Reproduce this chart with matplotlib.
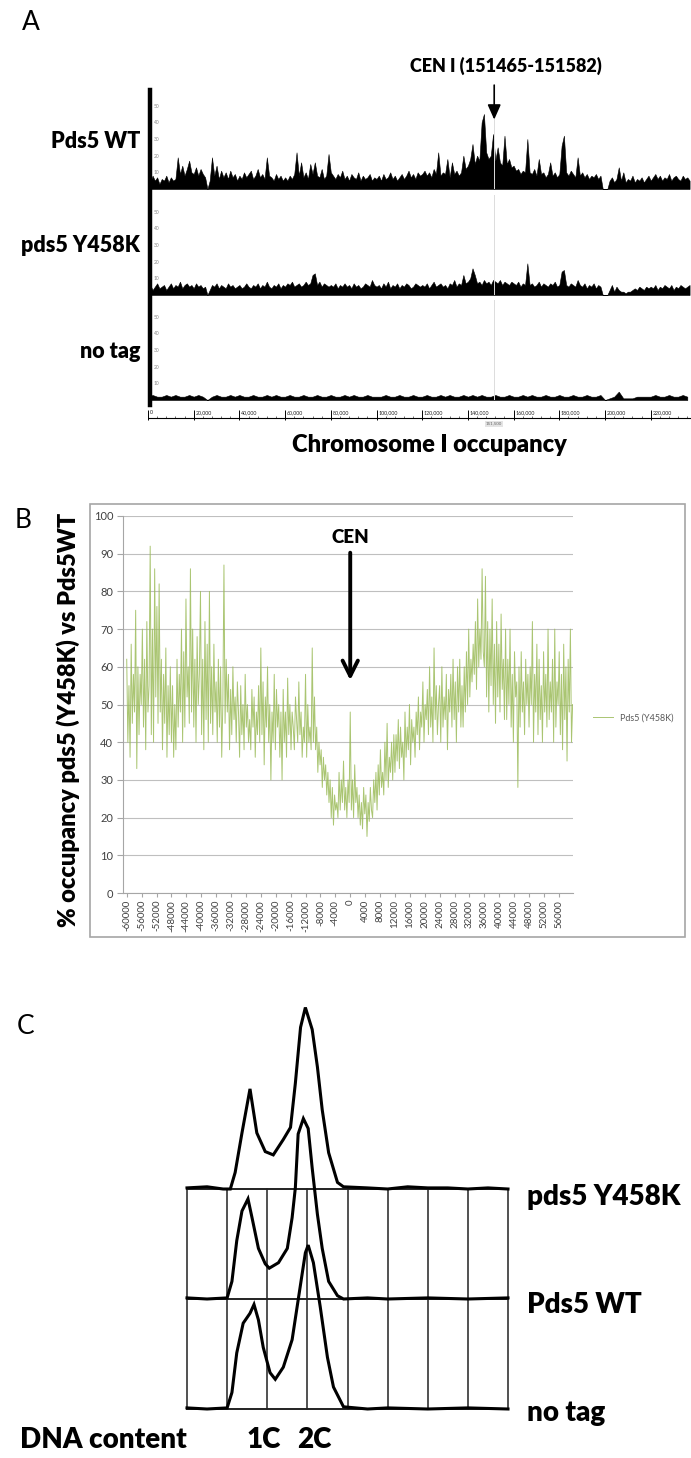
import numpy as np
import matplotlib.pyplot as plt
from matplotlib.lines import Line2D
from matplotlib.patches import Rectangle

plt.rcParams['font.family'] = ['Lato', 'DejaVu Sans']

W, H = 691, 1458

# ---------------- Panel A: occupancy along chromosome I ----------------
# WT and Y458K read every 1 kb, no tag every 2 kb (read off the tracks)
wt_occ = [
    6, 4, 8, 5, 7, 3, 6, 5, 8, 4, 7, 5, 6, 19, 9, 14, 8, 12, 17, 10,
    9, 13, 8, 12, 9, 7, 0, 5, 19, 8, 14, 6, 11, 7, 10, 6, 11, 7, 9, 5,
    8, 6, 10, 7, 9, 11, 6, 8, 12, 7, 9, 6, 19, 8, 7, 5, 9, 6, 8, 5,
    7, 5, 8, 6, 9, 22, 8, 16, 7, 10, 6, 15, 9, 16, 8, 7, 12, 6, 8, 21,
    10, 8, 6, 9, 7, 11, 6, 8, 5, 9, 7, 6, 10, 5, 8, 6, 7, 9, 5, 7,
    6, 8, 5, 9, 6, 7, 10, 6, 8, 5, 7, 9, 6, 8, 11, 7, 9, 6, 10, 8,
    9, 11, 8, 10, 7, 12, 9, 22, 8, 10, 9, 18, 7, 16, 9, 11, 8, 10, 20, 12,
    14, 18, 27, 15, 20, 17, 40, 45, 22, 18, 20, 33, 17, 25, 16, 14, 32, 15, 18, 13,
    14, 11, 12, 9, 11, 10, 30, 10, 9, 12, 8, 18, 9, 10, 7, 9, 16, 8, 10, 7,
    9, 26, 32, 10, 8, 11, 9, 7, 19, 8, 10, 7, 9, 6, 8, 7, 9, 6, 8, 0,
    0, 0, 5, 7, 4, 6, 13, 5, 10, 4, 6, 5, 8, 4, 6, 5, 7, 4, 6, 8,
    5, 7, 9, 6, 8, 5, 7, 6, 9, 5, 7, 8, 6, 5, 8, 6, 7, 5,
]
y458k_occ = [
    4, 6, 3, 5, 7, 4, 5, 6, 3, 5, 7, 4, 6, 5, 8, 4, 6, 7, 5, 6,
    4, 7, 5, 6, 4, 5, 0, 3, 6, 5, 7, 4, 6, 5, 4, 7, 5, 6, 4, 5,
    6, 4, 5, 7, 5, 4, 6, 5, 7, 4, 6, 5, 8, 5, 4, 6, 5, 7, 4, 6,
    5, 7, 6, 8, 5, 6, 7, 5, 6, 8, 6, 7, 12, 13, 6, 8, 5, 7, 6, 5,
    6, 5, 7, 4, 6, 5, 7, 5, 6, 4, 7, 5, 6, 4, 5, 7, 6, 5, 9, 6,
    5, 6, 4, 7, 5, 8, 4, 6, 5, 7, 4, 6, 5, 7, 6, 4, 5, 7, 6, 5,
    6, 5, 7, 4, 6, 8, 5, 6, 7, 5, 6, 4, 7, 6, 9, 5, 7, 6, 12, 7,
    8, 10, 16, 12, 7, 8, 6, 9, 7, 8, 6, 9, 8, 7, 9, 6, 8, 7, 6, 8,
    7, 6, 8, 5, 7, 6, 19, 6, 7, 5, 6, 8, 5, 7, 6, 5, 7, 6, 8, 5,
    6, 14, 15, 6, 5, 7, 6, 5, 9, 6, 5, 7, 4, 6, 5, 7, 4, 6, 5, 0,
    0, 0, 3, 6, 2, 5, 3, 2, 2, 1, 2, 2, 3, 4, 3, 5, 4, 3, 5, 4,
    5, 4, 6, 3, 5, 4, 6, 5, 4, 6, 3, 5, 4, 6, 5, 4, 5, 6,
]
notag_occ = [
    2, 3, 2, 2, 3, 2, 3, 2, 2, 3,
    2, 3, 2, 0, 2, 3, 2, 2, 3, 2,
    3, 2, 2, 3, 2, 2, 3, 2, 3, 2,
    2, 3, 2, 2, 3, 2, 2, 3, 2, 2,
    3, 2, 2, 3, 2, 3, 2, 2, 3, 2,
    2, 2, 3, 2, 2, 3, 2, 2, 3, 2,
    2, 3, 2, 2, 3, 2, 3, 2, 2, 3,
    2, 3, 2, 3, 2, 2, 3, 2, 2, 3,
    2, 2, 3, 2, 3, 2, 2, 3, 2, 2,
    3, 2, 2, 3, 2, 2, 3, 2, 2, 3,
    0, 1, 2, 5, 1, 1, 1, 2, 2, 2,
    2, 3, 2, 2, 3, 2, 2, 3, 2,
]
track_names = ['Pds5 WT', 'pds5 Y458K', 'no tag']
track_yticks = [10, 20, 30, 40, 50]
ruler_ticks = [0, 20000, 40000, 60000, 80000, 100000, 120000,
               140000, 160000, 180000, 200000, 220000]
cen_pos = 151500

# ---------------- Panel B: % occupancy around CEN (every 300 bp) ----------------
dist_start, dist_step = -60000, 300
ratio = [
    62, 40, 55, 36, 66, 45, 58, 48, 75, 33, 60, 42, 58, 50, 70, 44, 62, 38, 72, 48,
    55, 92, 42, 70, 40, 86, 52, 76, 45, 82, 48, 62, 38, 58, 45, 65, 36, 55, 42, 60,
    40, 55, 36, 50, 38, 62, 44, 58, 48, 70, 40, 64, 44, 78, 52, 60, 45, 86, 48, 70,
    44, 62, 40, 68, 50, 58, 80, 42, 62, 38, 72, 46, 66, 40, 80, 45, 60, 42, 66, 48,
    56, 40, 62, 44, 60, 36, 50, 87, 45, 62, 48, 58, 38, 54, 42, 60, 46, 52, 40, 56,
    48, 36, 55, 42, 50, 38, 58, 44, 50, 40, 46, 38, 54, 44, 52, 36, 48, 42, 55, 40,
    65, 42, 56, 34, 52, 44, 60, 40, 50, 30, 48, 40, 58, 38, 54, 44, 50, 36, 48, 30,
    54, 40, 48, 36, 57, 42, 50, 38, 48, 44, 38, 52, 46, 40, 56, 42, 48, 36, 44, 40,
    58, 36, 50, 40, 44, 38, 65, 40, 52, 38, 44, 32, 40, 34, 38, 28, 36, 30, 34, 26,
    32, 24, 30, 20, 28, 18, 26, 22, 24, 20, 32, 22, 30, 24, 35, 22, 28, 20, 30, 24,
    48, 22, 30, 20, 34, 24, 28, 20, 26, 18, 24, 17, 28, 21, 26, 15, 24, 19, 28, 22,
    20, 30, 24, 32, 22, 34, 26, 38, 28, 32, 26, 40, 30, 45, 28, 36, 32, 40, 30, 42,
    32, 42, 35, 46, 33, 44, 36, 40, 30, 48, 36, 44, 38, 50, 34, 46, 40, 44, 36, 48,
    42, 52, 38, 48, 44, 56, 40, 50, 46, 54, 42, 60, 44, 52, 40, 65, 46, 55, 42, 50,
    55, 40, 60, 44, 52, 46, 58, 38, 54, 48, 58, 44, 62, 46, 56, 40, 60, 48, 62, 44,
    55, 44, 60, 48, 64, 50, 70, 52, 62, 56, 66, 58, 72, 54, 78, 60, 70, 62, 86, 64,
    60, 84, 52, 72, 48, 70, 55, 78, 50, 66, 45, 72, 52, 66, 48, 74, 54, 62, 46, 70,
    46, 62, 50, 70, 44, 58, 40, 64, 52, 56, 28, 60, 44, 64, 48, 56, 42, 62, 50, 58,
    44, 60, 50, 72, 40, 58, 48, 66, 42, 62, 46, 55, 40, 64, 48, 58, 44, 70, 46, 56,
    48, 62, 40, 70, 44, 56, 50, 64, 42, 58, 38, 66, 46, 60, 35, 62, 48, 70, 40, 50,
]
dist_ticks = list(range(-60000, 56001, 4000))

# ---------------- Panel C: DNA content profiles ----------------
ph_y458k_x = [0, 0.5, 0.9, 1.08, 1.2, 1.37, 1.57, 1.74, 1.95, 2.15, 2.4, 2.58, 2.7, 2.83,
              2.95, 3.12, 3.25, 3.37, 3.53, 3.75, 3.9, 4.5, 5.0, 5.5, 6.0, 6.5, 7.0, 7.5, 8.0]
ph_y458k_h = [0.01, 0.02, 0.0, 0.0, 0.15, 0.51, 0.91, 0.51, 0.34, 0.31, 0.45, 0.56, 0.96, 1.47,
              1.65, 1.45, 1.11, 0.72, 0.33, 0.06, 0.02, 0.01, 0.0, 0.02, 0.01, 0.01, 0.0, 0.01, 0.0]
ph_wt_x = [0, 0.5, 1.0, 1.12, 1.24, 1.37, 1.52, 1.62, 1.78, 1.95, 2.05, 2.28, 2.5, 2.62, 2.7,
           2.77, 2.9, 3.02, 3.12, 3.25, 3.37, 3.53, 3.75, 3.9, 4.5, 5.0, 6.0, 7.0, 8.0]
ph_wt_h = [0.01, 0.0, 0.01, 0.16, 0.53, 0.80, 0.91, 0.74, 0.46, 0.32, 0.28, 0.33, 0.46, 0.74, 1.01,
           1.50, 1.64, 1.55, 1.19, 0.77, 0.46, 0.16, 0.03, 0.0, 0.01, 0.0, 0.01, 0.0, 0.01]
ph_notag_x = [0, 0.5, 1.0, 1.12, 1.24, 1.4, 1.57, 1.67, 1.78, 1.9, 2.07, 2.2, 2.4, 2.62,
              2.77, 2.95, 3.02, 3.15, 3.32, 3.5, 3.65, 3.9, 4.5, 5.0, 6.0, 7.0, 8.0]
ph_notag_h = [0.01, 0.0, 0.01, 0.15, 0.51, 0.78, 0.87, 0.95, 0.81, 0.56, 0.33, 0.27, 0.38, 0.63,
              0.99, 1.42, 1.49, 1.33, 0.93, 0.47, 0.20, 0.02, 0.0, 0.01, 0.0, 0.01, 0.0]

fig = plt.figure(figsize=(W / 100, H / 100), dpi=100)


def px_axes(l, t, r, b):
    # axes from pixel box (top-left origin)
    return fig.add_axes([l / W, 1 - b / H, (r - l) / W, (b - t) / H])


def fig_text(x, y, s, **kw):
    fig.text(x / W, 1 - y / H, s, **kw)


BOLD = 'heavy'

# ---- A ----
fig_text(22, 22, 'A', fontsize=19, va='center', ha='left')
chrom_end = (W - 148) * 437.6
tracks = [(wt_occ, 1000, 189), (y458k_occ, 1000, 295), (notag_occ, 2000, 400)]
label_y = [141, 246, 352]
track_axes = []
for (vals, step, base), name, ly in zip(tracks, track_names, label_y):
    ax = px_axes(148, base - 100, W, base)
    pos = np.arange(len(vals)) * step
    ax.fill_between(pos, vals, color='black', lw=0.4, edgecolor='black')
    ax.axvline(cen_pos, color='#dcdcdc', lw=0.7, zorder=3)
    ax.set_xlim(0, chrom_end)
    ax.set_ylim(0, 60)
    for s in ax.spines.values():
        s.set_visible(False)
    ax.set_xticks([])
    ax.set_yticks(track_yticks)
    ax.tick_params(axis='y', direction='in', length=2, width=0.5, color='#888888',
                   labelsize=3.5, labelcolor='#888888', pad=-8)
    ax.patch.set_alpha(0)
    fig_text(140, ly, name, ha='right', va='center', fontsize=15.5, weight=BOLD)
    track_axes.append(ax)

fig.add_artist(Line2D([149.5 / W] * 2, [1 - 90 / H, 1 - 405 / H], color='black', lw=3.2))

ax1 = track_axes[0]
ax1.annotate('', xy=(cen_pos, 40), xytext=(cen_pos, 64), annotation_clip=False,
             arrowprops=dict(arrowstyle='-|>,head_length=0.9,head_width=0.4', lw=1.2, color='black'))
fig_text(506, 66, 'CEN I (151465-151582)', ha='center', va='center', fontsize=13, weight=BOLD)

rul = px_axes(148, 405, W, 428)
rul.set_xlim(0, chrom_end)
rul.set_ylim(0, 1)
rul.axis('off')
yb = 10 / 23
rul.axhline(yb, color='black', lw=0.8)
rul.vlines(np.arange(0, chrom_end, 4000), yb, yb + 0.1, color='black', lw=0.4)
rul.vlines(ruler_ticks, yb - 0.08, yb + 0.35, color='black', lw=0.7)
for t in ruler_ticks:
    rul.text(t + 700, yb + 0.25, f'{t:,}', fontsize=3.8, ha='left', va='center', color='#222222')
rul.text(cen_pos, yb - 0.25, f'{cen_pos:,}', fontsize=3.2, ha='center', va='center', color='#666666',
         bbox=dict(facecolor='#e4e4e4', edgecolor='none', pad=0.6))
fig_text(429, 445, 'Chromosome I occupancy', ha='center', va='center', fontsize=17, weight=BOLD)

# ---- B ----
fig_text(15, 520, 'B', fontsize=19, va='center', ha='left')
fig.patches.append(Rectangle((90 / W, 1 - 937 / H), 595 / W, 433 / H, transform=fig.transFigure,
                             fill=False, ec='#a6a6a6', lw=1.2))
axb = px_axes(123, 516, 573, 893)
dist = dist_start + np.arange(len(ratio)) * dist_step
axb.plot(dist, ratio, color='#9BBB59', lw=0.7, alpha=0.85, label='Pds5 (Y458K)')
axb.set_xlim(-61000, 59800)
axb.set_ylim(0, 100)
axb.set_yticks(range(0, 101, 10))
axb.set_xticks(dist_ticks)
axb.set_xticklabels([str(t) for t in dist_ticks], rotation=90)
axb.grid(axis='y', color='#bfbfbf', lw=0.8)
axb.set_axisbelow(True)
for s in ['top', 'right']:
    axb.spines[s].set_visible(False)
for s in ['left', 'bottom']:
    axb.spines[s].set_color('#a6a6a6')
axb.tick_params(axis='y', labelsize=8, colors='#a6a6a6', labelcolor='#404040', length=4, pad=3)
axb.tick_params(axis='x', labelsize=7, colors='#a6a6a6', labelcolor='#404040', length=3, pad=2)
axb.annotate('', xy=(0, 55.7), xytext=(0, 91),
             arrowprops=dict(arrowstyle='->,head_length=1.1,head_width=0.55', lw=2.8, color='black'))
axb.text(0, 94.2, 'CEN', ha='center', va='center', fontsize=13.5, weight=BOLD)
axb.legend(loc='center left', bbox_to_anchor=(585 / W, 1 - 718 / H), bbox_transform=fig.transFigure,
           frameon=False, fontsize=6.5, handlelength=2.2, labelcolor='#595959')
fig_text(68, 720, '% occupancy pds5 (Y458K) vs Pds5WT', rotation=90, ha='center', va='center',
         fontsize=17, weight=BOLD)

# ---- C ----
fig_text(17, 1026, 'C', fontsize=19, va='center', ha='left')
axc = px_axes(187, 969, 508, 1409)
axc.set_xlim(0, 8)
axc.set_ylim(0, 4)
axc.axis('off')
for yy in [0, 1, 2]:
    axc.plot([0, 8], [yy, yy], color='#222222', lw=1.4, clip_on=False)
for xx in range(9):
    axc.plot([xx, xx], [0, 2], color='#222222', lw=1.1, clip_on=False)
profiles = [(ph_y458k_x, ph_y458k_h, 2), (ph_wt_x, ph_wt_h, 1), (ph_notag_x, ph_notag_h, 0)]
for px_, h_, off in profiles:
    axc.plot(px_, np.array(h_) + off, color='black', lw=2.2, clip_on=False, solid_joinstyle='miter')
fig_text(527, 1197, 'pds5 Y458K', ha='left', va='center', fontsize=20, weight=BOLD)
fig_text(527, 1305, 'Pds5 WT', ha='left', va='center', fontsize=20, weight=BOLD)
fig_text(527, 1413, 'no tag', ha='left', va='center', fontsize=20, weight=BOLD)
fig_text(20, 1440, 'DNA content', ha='left', va='center', fontsize=20, weight=BOLD)
fig_text(247, 1440, '1C', ha='left', va='center', fontsize=20, weight=BOLD)
fig_text(297, 1440, '2C', ha='left', va='center', fontsize=20, weight=BOLD)

fig.savefig('out.png', dpi=100)
